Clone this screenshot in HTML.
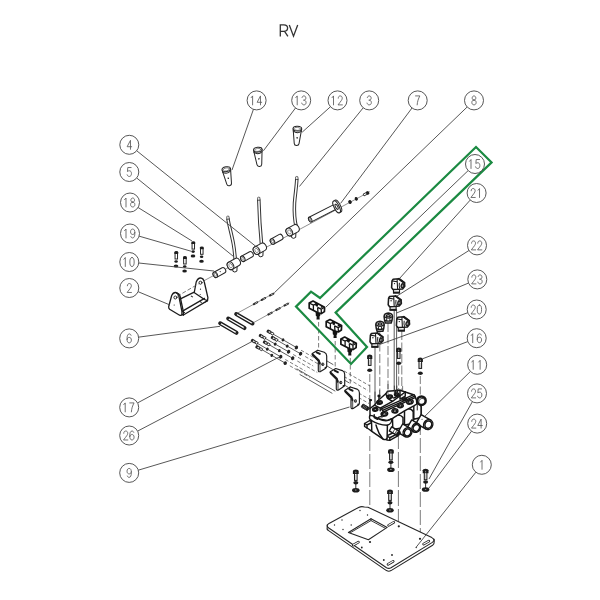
<!DOCTYPE html>
<html><head><meta charset="utf-8"><title>RV</title>
<style>
html,body{margin:0;padding:0;background:#fff;}
body{width:600px;height:600px;overflow:hidden;font-family:"Liberation Sans",sans-serif;}
svg{display:block}
.ld{stroke:#444;stroke-width:.9;fill:none}
.co{stroke:#444;stroke-width:.9;fill:#fff}
.dg{stroke:#5a5a5a;stroke-width:.78;fill:none;stroke-linecap:round;stroke-linejoin:round}
.p{stroke:#262626;stroke-width:1;fill:#fff;stroke-linejoin:round;stroke-linecap:round}
.pn{stroke:#262626;stroke-width:1;fill:none;stroke-linejoin:round;stroke-linecap:round}
.t{stroke:#444;stroke-width:.6;fill:none;stroke-linecap:round}
.k{fill:#222;stroke:none}
.da{stroke:#444;stroke-width:.7;fill:none;stroke-dasharray:5 2.5}
.ns *{vector-effect:non-scaling-stroke}
.g{stroke:#1b8a42;stroke-width:2.2;fill:none;stroke-linejoin:miter}
.ti{stroke:#333;stroke-width:1.3;fill:none;stroke-linecap:butt;stroke-linejoin:miter}
</style></head><body>
<svg width="600" height="600" viewBox="0 0 600 600">
<rect width="600" height="600" fill="#fff"/>
<!-- title RV -->
<path class="ti" d="M280.3,36.4 V24.9 H283.9 C286.3,24.9 287.6,26 287.6,28.1 C287.6,30.2 286.3,31.3 283.9,31.3 H280.3 M284.6,31.3 L287.9,36.4"/>
<path class="ti" d="M289.3,24.9 L293.5,36.2 L297.7,24.9"/>
<path class="t" d="M200.5,282.6 L369.5,191.8"/>
<g transform="translate(226.3,169.2) rotate(-11)"><path class="p" d="M-4.3,0 L-2.4,14.8 Q-2.2,16.8 0,16.8 Q2.2,16.8 2.4,14.8 L4.3,0Z"/><path class="pn" d="M-4.1,2.4 Q0,5.6 4.1,2.4"/><ellipse class="p" cx="0" cy="0" rx="4.3" ry="2.4"/><ellipse class="pn" cx="0" cy="0.2" rx="3.2" ry="1.5" style="stroke-width:.5"/><circle class="k" cx="0.2" cy="9.2" r=".8"/></g>
<g transform="translate(257.8,149.7) rotate(-6)"><path class="p" d="M-4.3,0 L-2.4,14.8 Q-2.2,16.8 0,16.8 Q2.2,16.8 2.4,14.8 L4.3,0Z"/><path class="pn" d="M-4.1,2.4 Q0,5.6 4.1,2.4"/><ellipse class="p" cx="0" cy="0" rx="4.3" ry="2.4"/><ellipse class="pn" cx="0" cy="0.2" rx="3.2" ry="1.5" style="stroke-width:.5"/><circle class="k" cx="0.2" cy="9.2" r=".8"/></g>
<g transform="translate(297.4,128.7) rotate(3)"><path class="p" d="M-4.3,0 L-2.4,14.8 Q-2.2,16.8 0,16.8 Q2.2,16.8 2.4,14.8 L4.3,0Z"/><path class="pn" d="M-4.1,2.4 Q0,5.6 4.1,2.4"/><ellipse class="p" cx="0" cy="0" rx="4.3" ry="2.4"/><ellipse class="pn" cx="0" cy="0.2" rx="3.2" ry="1.5" style="stroke-width:.5"/><circle class="k" cx="0.2" cy="9.2" r=".8"/></g>
<g transform="translate(310.20,219.60) rotate(-27)"><path class="p" d="M0,-2.6 L30,-2.6 A1.43,2.6 0 0 1 30,2.6 L0,2.6 A1.43,2.6 0 0 1 0,-2.6Z"/><ellipse class="p" cx="0" cy="0" rx="1.43" ry="2.6"/><ellipse class="p" cx="0.2" cy="0" rx="0.72" ry="1.3" style="stroke-width:.6;stroke:#555"/></g>
<g transform="translate(336.6,206.8) rotate(-27)"><ellipse class="p" cx="1.5" cy="0" rx="2.5" ry="6.6"/><ellipse class="p" cx="0" cy="0" rx="2.5" ry="6.6" style="stroke-width:1.1"/><ellipse class="pn" cx="0" cy="0" rx="1.1" ry="2.8" /></g>
<ellipse fill="#1c1c1c" cx="350" cy="202" rx="1.7" ry="2.1" transform="rotate(-27 350 202)"/>
<ellipse fill="#1c1c1c" cx="356.3" cy="198.8" rx="1.5" ry="1.9" transform="rotate(-27 356.3 198.8)"/>
<g transform="translate(363.6,195) rotate(-27)"><rect x="0" y="-1" width="3.6" height="2" fill="#fff" stroke="#1c1c1c" stroke-width=".8"/><rect fill="#1c1c1c" x="3.2" y="-1.7" width="2.8" height="3.4" rx=".9"/></g>
<g transform="translate(215.30,274.80) rotate(-29)"><path class="p" d="M0,-2.9 L9.4,-2.9 A2.03,2.9 0 0 1 9.4,2.9 L0,2.9 A2.03,2.9 0 0 1 0,-2.9Z"/><ellipse class="p" cx="0" cy="0" rx="2.03" ry="2.9"/><ellipse class="p" cx="0.2" cy="0" rx="1.12" ry="1.6" style="stroke-width:.6;stroke:#555"/></g>
<g transform="translate(242.80,258.80) rotate(-29)"><path class="p" d="M0,-2.9 L9.4,-2.9 A2.03,2.9 0 0 1 9.4,2.9 L0,2.9 A2.03,2.9 0 0 1 0,-2.9Z"/><ellipse class="p" cx="0" cy="0" rx="2.03" ry="2.9"/><ellipse class="p" cx="0.2" cy="0" rx="1.12" ry="1.6" style="stroke-width:.6;stroke:#555"/></g>
<g transform="translate(272.50,241.50) rotate(-29)"><path class="p" d="M0,-2.9 L9.4,-2.9 A2.03,2.9 0 0 1 9.4,2.9 L0,2.9 A2.03,2.9 0 0 1 0,-2.9Z"/><ellipse class="p" cx="0" cy="0" rx="2.03" ry="2.9"/><ellipse class="p" cx="0.2" cy="0" rx="1.12" ry="1.6" style="stroke-width:.6;stroke:#555"/></g>
<circle class="k" cx="220.2" cy="271.6" r=".55"/>
<path d="M227.9,218.5 C229,226 231.6,234 233.4,244 C234.3,249 234.8,254 235.2,259.5" fill="none" stroke="#333" stroke-width="3.5" stroke-linecap="butt" stroke-linejoin="round"/>
<path d="M227.9,218.5 C229,226 231.6,234 233.4,244 C234.3,249 234.8,254 235.2,259.5" fill="none" stroke="#fff" stroke-width="1.5" stroke-linecap="butt" stroke-linejoin="round"/>
<path class="p" d="M226.9,218.9 L226.7,216.6 Q227.8,215.6 229,216.4 L229.2,218.7Z" style="stroke-width:.7"/>
<path class="p" d="M232.5,267.9 L232.9,271.3 Q234.7,272.9 236.9,271.1 L237.1,266.7Z"/>
<g transform="translate(230.50,265.70) rotate(-29)"><path class="p" d="M0,-4.0 L7.6,-4.0 A3.00,4.0 0 0 1 7.6,4.0 L0,4.0 A3.00,4.0 0 0 1 0,-4.0Z"/><ellipse class="p" cx="0" cy="0" rx="3.00" ry="4.0"/><ellipse class="p" cx="0.2" cy="0" rx="1.65" ry="2.2" style="stroke-width:.6;stroke:#555"/></g>
<path d="M258.8,199.5 C259.2,215 260.3,232 261.6,245.5" fill="none" stroke="#333" stroke-width="3.5" stroke-linecap="butt" stroke-linejoin="round"/>
<path d="M258.8,199.5 C259.2,215 260.3,232 261.6,245.5" fill="none" stroke="#fff" stroke-width="1.5" stroke-linecap="butt" stroke-linejoin="round"/>
<path class="p" d="M257.7,199.9 L257.6,197.6 Q258.7,196.7 259.9,197.5 L260,199.8Z" style="stroke-width:.7"/>
<path class="p" d="M258.5,252.7 L258.9,256.1 Q260.7,257.7 262.9,255.9 L263.1,251.5Z"/>
<g transform="translate(256.50,250.50) rotate(-29)"><path class="p" d="M0,-4.0 L7.6,-4.0 A3.00,4.0 0 0 1 7.6,4.0 L0,4.0 A3.00,4.0 0 0 1 0,-4.0Z"/><ellipse class="p" cx="0" cy="0" rx="3.00" ry="4.0"/><ellipse class="p" cx="0.2" cy="0" rx="1.65" ry="2.2" style="stroke-width:.6;stroke:#555"/></g>
<path d="M296.8,178.8 C296.6,186 295.2,194 294.5,203 C294,212 294.6,220 296.3,227.5" fill="none" stroke="#333" stroke-width="3.5" stroke-linecap="butt" stroke-linejoin="round"/>
<path d="M296.8,178.8 C296.6,186 295.2,194 294.5,203 C294,212 294.6,220 296.3,227.5" fill="none" stroke="#fff" stroke-width="1.5" stroke-linecap="butt" stroke-linejoin="round"/>
<path class="p" d="M295.7,179.2 L295.6,176.9 Q296.8,176 297.9,176.8 L298,179.1Z" style="stroke-width:.7"/>
<path class="p" d="M291.3,234.2 L291.7,237.6 Q293.5,239.2 295.7,237.4 L295.9,233.0Z"/>
<g transform="translate(289.30,232.00) rotate(-29)"><path class="p" d="M0,-4.0 L7.6,-4.0 A3.00,4.0 0 0 1 7.6,4.0 L0,4.0 A3.00,4.0 0 0 1 0,-4.0Z"/><ellipse class="p" cx="0" cy="0" rx="3.00" ry="4.0"/><ellipse class="p" cx="0.2" cy="0" rx="1.65" ry="2.2" style="stroke-width:.6;stroke:#555"/></g>
<g transform="translate(193.3,241.7)"><rect x="-1.25" y="1.6" width="2.5" height="5.8" fill="#fff" stroke="#1c1c1c" stroke-width=".95"/><path fill="#1c1c1c" d="M-1.9,2.3 L-1.9,0.7 Q-1.9,-0.5 0,-0.5 Q1.9,-0.5 1.9,0.7 L1.9,2.3Z"/><ellipse fill="#1c1c1c" cx="-0.2" cy="9.9" rx="1.75" ry="1.3"/><ellipse fill="#1c1c1c" cx="-0.3" cy="14.4" rx="2.3" ry="1.5"/></g>
<g transform="translate(201.8,246.9)"><rect x="-1.25" y="1.6" width="2.5" height="5.8" fill="#fff" stroke="#1c1c1c" stroke-width=".95"/><path fill="#1c1c1c" d="M-1.9,2.3 L-1.9,0.7 Q-1.9,-0.5 0,-0.5 Q1.9,-0.5 1.9,0.7 L1.9,2.3Z"/><ellipse fill="#1c1c1c" cx="-0.2" cy="9.9" rx="1.75" ry="1.3"/><ellipse fill="#1c1c1c" cx="-0.3" cy="14.4" rx="2.3" ry="1.5"/></g>
<g transform="translate(176.3,251.6)"><rect x="-1.25" y="1.6" width="2.5" height="5.8" fill="#fff" stroke="#1c1c1c" stroke-width=".95"/><path fill="#1c1c1c" d="M-1.9,2.3 L-1.9,0.7 Q-1.9,-0.5 0,-0.5 Q1.9,-0.5 1.9,0.7 L1.9,2.3Z"/><ellipse fill="#1c1c1c" cx="-0.2" cy="9.9" rx="1.75" ry="1.3"/><ellipse fill="#1c1c1c" cx="-0.3" cy="14.4" rx="2.3" ry="1.5"/></g>
<g transform="translate(184.9,256.6)"><rect x="-1.25" y="1.6" width="2.5" height="5.8" fill="#fff" stroke="#1c1c1c" stroke-width=".95"/><path fill="#1c1c1c" d="M-1.9,2.3 L-1.9,0.7 Q-1.9,-0.5 0,-0.5 Q1.9,-0.5 1.9,0.7 L1.9,2.3Z"/><ellipse fill="#1c1c1c" cx="-0.2" cy="9.9" rx="1.75" ry="1.3"/><ellipse fill="#1c1c1c" cx="-0.3" cy="14.4" rx="2.3" ry="1.5"/></g>
<path class="p" style="stroke-width:1.3;stroke:#1c1c1c" d="M193.7,295.5 L196.2,282 Q198,277.8 200.6,278 Q203.6,278.2 204.4,282.5 L207.9,297.6 L207.5,300.6 L204.5,302.2 Z"/>
<path class="p" style="stroke-width:1.3;stroke:#1c1c1c" d="M179.4,299.4 L193.7,292.3 L204.5,299.5 L207.5,300.6 L183.4,315 L180.5,314.2 Z"/>
<path class="pn" style="stroke-width:1.3;stroke:#1c1c1c" d="M181.7,311.6 L204.5,298.4"/>
<path class="p" style="stroke-width:1.3;stroke:#1c1c1c" d="M168.7,306.5 L171.7,295.5 Q173.2,292.3 175.6,292.5 Q178,292.8 178.9,296.4 L181.9,311.4 L181.9,314.4 Q181.5,315.8 179.6,315.2 L169.6,309.3 Q168.4,308.2 168.7,306.5Z"/>
<path class="pn" style="stroke-width:1.3;stroke:#1c1c1c" d="M176.6,292.8 Q179.4,293.4 180,296 L183.3,311.5 L183.4,315"/>
<circle class="p" cx="175.4" cy="297.5" r="1.5" style="stroke-width:1"/>
<circle class="p" cx="200.5" cy="282.7" r="1.5" style="stroke-width:1"/>
<circle class="k" cx="174.2" cy="305" r=".6"/><circle class="k" cx="200.5" cy="289.2" r=".6"/><circle class="k" cx="200.2" cy="294.6" r=".5"/>
<path class="k" d="M191.2,295.6 l2,1.2 l-.6,.7 l-2,-1.2z M199.6,300.8 l2.4,1.4 l-.6,.8 l-2.4,-1.4z M183.4,311.4 l1.8,.9 l-.5,.9 l-1.8,-.9z"/>
<path class="da" style="stroke-dasharray:4 2" d="M177.2,296.3 L198.6,283.8"/>
<path d="M236.2,314 L252.5,323.5" stroke="#1c1c1c" stroke-width="4" stroke-linecap="round" fill="none"/>
<path d="M236.5,314.2 L252.2,323.3" stroke="#fff" stroke-width="1.3" stroke-linecap="round" fill="none"/>
<circle class="k" cx="236.2" cy="314" r="1"/><circle class="k" cx="252.5" cy="323.5" r="1"/>
<path d="M228.2,318.6 L244.5,328.1" stroke="#1c1c1c" stroke-width="4" stroke-linecap="round" fill="none"/>
<path d="M228.5,318.8 L244.2,327.90000000000003" stroke="#fff" stroke-width="1.3" stroke-linecap="round" fill="none"/>
<circle class="k" cx="228.2" cy="318.6" r="1"/><circle class="k" cx="244.5" cy="328.1" r="1"/>
<path d="M220.2,323.3 L236.5,332.8" stroke="#1c1c1c" stroke-width="4" stroke-linecap="round" fill="none"/>
<path d="M220.5,323.5 L236.2,332.6" stroke="#fff" stroke-width="1.3" stroke-linecap="round" fill="none"/>
<circle class="k" cx="220.2" cy="323.3" r="1"/><circle class="k" cx="236.5" cy="332.8" r="1"/>
<path class="t" d="M236.6,313.6 L274.5,292.9 M252.9,323 L289,303"/>
<g transform="translate(255.5,303.2) rotate(-29)"><rect x="-2.8" y="-1" width="5.6" height="2" rx=".6" fill="#2a2a2a"/><rect x="-0.6" y="-.35" width="2.4" height=".7" fill="#bbb"/></g>
<g transform="translate(263.4,299) rotate(-29)"><rect x="-2.8" y="-1" width="5.6" height="2" rx=".6" fill="#2a2a2a"/><rect x="-0.6" y="-.35" width="2.4" height=".7" fill="#bbb"/></g>
<g transform="translate(271.6,294.6) rotate(-29)"><rect x="-2.8" y="-1" width="5.6" height="2" rx=".6" fill="#2a2a2a"/><rect x="-0.6" y="-.35" width="2.4" height=".7" fill="#bbb"/></g>
<g transform="translate(270,313.6) rotate(-29)"><rect x="-2.8" y="-1" width="5.6" height="2" rx=".6" fill="#2a2a2a"/><rect x="-0.6" y="-.35" width="2.4" height=".7" fill="#bbb"/></g>
<g transform="translate(278,309.1) rotate(-29)"><rect x="-2.8" y="-1" width="5.6" height="2" rx=".6" fill="#2a2a2a"/><rect x="-0.6" y="-.35" width="2.4" height=".7" fill="#bbb"/></g>
<g transform="translate(286.2,304.6) rotate(-29)"><rect x="-2.8" y="-1" width="5.6" height="2" rx=".6" fill="#2a2a2a"/><rect x="-0.6" y="-.35" width="2.4" height=".7" fill="#bbb"/></g>
<path class="t" style="stroke-width:.8;stroke:#333" d="M269,331.7 L297.6,348.2"/>
<path class="da" style="stroke-dasharray:3.5 2" d="M301.0,350.2 L321.0,361.7"/>
<g transform="translate(269,331.7) rotate(30)"><rect x="-2.4" y="-1.7" width="4.8" height="3.4" rx="1.2" fill="#222"/><rect x="-0.4" y="-.7" width="2" height="1.4" rx=".5" fill="#ddd"/><rect x="2.4" y="-1.1" width="2.6" height="2.2" fill="#fff" stroke="#222" stroke-width=".8"/></g>
<ellipse class="k" cx="283.0" cy="339.8" rx="1.3" ry="1.6" transform="rotate(30 283.0 339.8)"/>
<ellipse class="k" cx="296.4" cy="347.5" rx="1.6" ry="1.95" transform="rotate(30 296.4 347.5)"/>
<path class="t" style="stroke-width:.8;stroke:#333" d="M261.2,336 L289.8,352.5"/>
<path class="da" style="stroke-dasharray:3.5 2" d="M293.2,354.5 L313.2,366.0"/>
<g transform="translate(261.2,336) rotate(30)"><rect x="-2.4" y="-1.7" width="4.8" height="3.4" rx="1.2" fill="#222"/><rect x="-0.4" y="-.7" width="2" height="1.4" rx=".5" fill="#ddd"/><rect x="2.4" y="-1.1" width="2.6" height="2.2" fill="#fff" stroke="#222" stroke-width=".8"/></g>
<ellipse class="k" cx="275.2" cy="344.1" rx="1.3" ry="1.6" transform="rotate(30 275.2 344.1)"/>
<ellipse class="k" cx="288.6" cy="351.8" rx="1.6" ry="1.95" transform="rotate(30 288.6 351.8)"/>
<path class="t" style="stroke-width:.8;stroke:#333" d="M253.3,341 L281.9,357.5"/>
<path class="da" style="stroke-dasharray:3.5 2" d="M285.3,359.5 L305.3,371.0"/>
<g transform="translate(253.3,341) rotate(30)"><rect x="-2.4" y="-1.7" width="4.8" height="3.4" rx="1.2" fill="#222"/><rect x="-0.4" y="-.7" width="2" height="1.4" rx=".5" fill="#ddd"/><rect x="2.4" y="-1.1" width="2.6" height="2.2" fill="#fff" stroke="#222" stroke-width=".8"/></g>
<ellipse class="k" cx="267.3" cy="349.1" rx="1.3" ry="1.6" transform="rotate(30 267.3 349.1)"/>
<ellipse class="k" cx="280.7" cy="356.8" rx="1.6" ry="1.95" transform="rotate(30 280.7 356.8)"/>
<path class="t" style="stroke-width:.8;stroke:#333" d="M273.2,338 L301.8,354.5"/>
<path class="da" style="stroke-dasharray:3.5 2" d="M305.2,356.5 L325.2,368.0"/>
<g transform="translate(273.2,338) rotate(30)"><rect x="-2.4" y="-1.7" width="4.8" height="3.4" rx="1.2" fill="#222"/><rect x="-0.4" y="-.7" width="2" height="1.4" rx=".5" fill="#ddd"/><rect x="2.4" y="-1.1" width="2.6" height="2.2" fill="#fff" stroke="#222" stroke-width=".8"/></g>
<ellipse class="k" cx="287.2" cy="346.1" rx="1.3" ry="1.6" transform="rotate(30 287.2 346.1)"/>
<ellipse class="k" cx="300.6" cy="353.8" rx="1.6" ry="1.95" transform="rotate(30 300.6 353.8)"/>
<path class="t" style="stroke-width:.8;stroke:#333" d="M265.3,342.5 L293.9,359.0"/>
<path class="da" style="stroke-dasharray:3.5 2" d="M297.3,361.0 L317.3,372.5"/>
<g transform="translate(265.3,342.5) rotate(30)"><rect x="-2.4" y="-1.7" width="4.8" height="3.4" rx="1.2" fill="#222"/><rect x="-0.4" y="-.7" width="2" height="1.4" rx=".5" fill="#ddd"/><rect x="2.4" y="-1.1" width="2.6" height="2.2" fill="#fff" stroke="#222" stroke-width=".8"/></g>
<ellipse class="k" cx="279.3" cy="350.6" rx="1.3" ry="1.6" transform="rotate(30 279.3 350.6)"/>
<ellipse class="k" cx="292.7" cy="358.3" rx="1.6" ry="1.95" transform="rotate(30 292.7 358.3)"/>
<path class="t" style="stroke-width:.8;stroke:#333" d="M257.8,347.3 L286.4,363.8"/>
<path class="da" style="stroke-dasharray:3.5 2" d="M289.8,365.8 L309.8,377.3"/>
<g transform="translate(257.8,347.3) rotate(30)"><rect x="-2.4" y="-1.7" width="4.8" height="3.4" rx="1.2" fill="#222"/><rect x="-0.4" y="-.7" width="2" height="1.4" rx=".5" fill="#ddd"/><rect x="2.4" y="-1.1" width="2.6" height="2.2" fill="#fff" stroke="#222" stroke-width=".8"/></g>
<ellipse class="k" cx="271.8" cy="355.4" rx="1.3" ry="1.6" transform="rotate(30 271.8 355.4)"/>
<ellipse class="k" cx="285.2" cy="363.1" rx="1.6" ry="1.95" transform="rotate(30 285.2 363.1)"/>
<path class="t" style="stroke:#333;stroke-width:.8" d="M297,369 L335,391 M300,374.6 L332,393.2"/>
<path class="t" style="stroke:#333;stroke-width:.8" d="M327,361 L333,364.5 M327,366 L332.5,369.3 M343.5,379.5 L349,382.8 M343.5,384.5 L348,387.2"/>
<path class="da" style="stroke-dasharray:3.5 2" d="M344,371 L370,386 M344,376.5 L368,390.5 M358.5,393 L370,399.5 M358.5,397.5 L369,403.5"/>
<path class="da" style="stroke-dasharray:4.5 2.5" d="M318.6,322 V351 M335.2,341 V370 M350.3,358 V388"/>
<g transform="translate(318.3,361)"><path d="M-6,-7.5 L-0.6,-10.8 L6,-8.7 Q8.4,-7.5 8.4,-5 L8.4,5.3 Q8.2,7 6.7,7.8 L2.2,10.6 Q0,11.3 0,9.5 L0,0 L-5.8,-5.8Z" fill="#fff" stroke="#1c1c1c" stroke-width="1.15" stroke-linejoin="round"/><path d="M-5.8,-6.8 L0.6,-0.6 L1.4,2.5" fill="none" stroke="#1c1c1c" stroke-width="1.9" stroke-linecap="round" stroke-linejoin="round"/><path d="M1.7,1 L1.7,10.4" fill="none" stroke="#1c1c1c" stroke-width=".8"/><path d="M-1.6,-8.7 L1.5,-7.1" stroke="#1c1c1c" stroke-width="2" stroke-linecap="round"/><ellipse cx="4.5" cy="3.2" rx="1.5" ry="1.8" fill="#1c1c1c"/><ellipse cx="4.8" cy="3.1" rx=".6" ry=".8" fill="#aaa"/><circle cx="7.2" cy="6.6" r=".9" fill="#1c1c1c"/></g>
<g transform="translate(336.3,379.3)"><path d="M-6,-7.5 L-0.6,-10.8 L6,-8.7 Q8.4,-7.5 8.4,-5 L8.4,5.3 Q8.2,7 6.7,7.8 L2.2,10.6 Q0,11.3 0,9.5 L0,0 L-5.8,-5.8Z" fill="#fff" stroke="#1c1c1c" stroke-width="1.15" stroke-linejoin="round"/><path d="M-5.8,-6.8 L0.6,-0.6 L1.4,2.5" fill="none" stroke="#1c1c1c" stroke-width="1.9" stroke-linecap="round" stroke-linejoin="round"/><path d="M1.7,1 L1.7,10.4" fill="none" stroke="#1c1c1c" stroke-width=".8"/><path d="M-1.6,-8.7 L1.5,-7.1" stroke="#1c1c1c" stroke-width="2" stroke-linecap="round"/><ellipse cx="4.5" cy="3.2" rx="1.5" ry="1.8" fill="#1c1c1c"/><ellipse cx="4.8" cy="3.1" rx=".6" ry=".8" fill="#aaa"/><circle cx="7.2" cy="6.6" r=".9" fill="#1c1c1c"/></g>
<g transform="translate(351,397.8)"><path d="M-6,-7.5 L-0.6,-10.8 L6,-8.7 Q8.4,-7.5 8.4,-5 L8.4,5.3 Q8.2,7 6.7,7.8 L2.2,10.6 Q0,11.3 0,9.5 L0,0 L-5.8,-5.8Z" fill="#fff" stroke="#1c1c1c" stroke-width="1.15" stroke-linejoin="round"/><path d="M-5.8,-6.8 L0.6,-0.6 L1.4,2.5" fill="none" stroke="#1c1c1c" stroke-width="1.9" stroke-linecap="round" stroke-linejoin="round"/><path d="M1.7,1 L1.7,10.4" fill="none" stroke="#1c1c1c" stroke-width=".8"/><path d="M-1.6,-8.7 L1.5,-7.1" stroke="#1c1c1c" stroke-width="2" stroke-linecap="round"/><ellipse cx="4.5" cy="3.2" rx="1.5" ry="1.8" fill="#1c1c1c"/><ellipse cx="4.8" cy="3.1" rx=".6" ry=".8" fill="#aaa"/><circle cx="7.2" cy="6.6" r=".9" fill="#1c1c1c"/></g>
<g transform="translate(317,308)"><path fill="#141414" d="M-1.4,3.2 L3.4,4.8 L3.2,7.8 L2.5,8.6 L2.7,11.6 L-0.5,11.6 L-0.3,8.6 L-1.2,7.8Z"/><path d="M-7.8,-5 L-4,-6.9 L7.6,-0.8 L7.4,3.6 L4.4,5.6 L1,4.8 L-7.8,0.3Z" fill="#fff" stroke="#141414" stroke-width="1.7" stroke-linejoin="round"/><path d="M-7.8,-5 L-3.6,-2.8 L0.2,-4.7 M-3.6,-2.8 L-3.6,2.3 M0.6,-0.6 L4.2,1.2 L7.6,-0.8 M4.2,1.2 L4.4,5.6 M0.6,-0.6 L1,4.8" fill="none" stroke="#141414" stroke-width="1.3" stroke-linejoin="round"/><path fill="#141414" d="M-1.8,-5.6 L1.6,-3.8 L0.4,-1 L-1.6,-2.2Z M4.6,-2.2 L6.6,-1.2 L5,0 L3.4,-0.8Z"/></g>
<g transform="translate(334,326.4)"><path fill="#141414" d="M-1.4,3.2 L3.4,4.8 L3.2,7.8 L2.5,8.6 L2.7,11.6 L-0.5,11.6 L-0.3,8.6 L-1.2,7.8Z"/><path d="M-7.8,-5 L-4,-6.9 L7.6,-0.8 L7.4,3.6 L4.4,5.6 L1,4.8 L-7.8,0.3Z" fill="#fff" stroke="#141414" stroke-width="1.7" stroke-linejoin="round"/><path d="M-7.8,-5 L-3.6,-2.8 L0.2,-4.7 M-3.6,-2.8 L-3.6,2.3 M0.6,-0.6 L4.2,1.2 L7.6,-0.8 M4.2,1.2 L4.4,5.6 M0.6,-0.6 L1,4.8" fill="none" stroke="#141414" stroke-width="1.3" stroke-linejoin="round"/><path fill="#141414" d="M-1.8,-5.6 L1.6,-3.8 L0.4,-1 L-1.6,-2.2Z M4.6,-2.2 L6.6,-1.2 L5,0 L3.4,-0.8Z"/></g>
<g transform="translate(348.7,344)"><path fill="#141414" d="M-1.4,3.2 L3.4,4.8 L3.2,7.8 L2.5,8.6 L2.7,11.6 L-0.5,11.6 L-0.3,8.6 L-1.2,7.8Z"/><path d="M-7.8,-5 L-4,-6.9 L7.6,-0.8 L7.4,3.6 L4.4,5.6 L1,4.8 L-7.8,0.3Z" fill="#fff" stroke="#141414" stroke-width="1.7" stroke-linejoin="round"/><path d="M-7.8,-5 L-3.6,-2.8 L0.2,-4.7 M-3.6,-2.8 L-3.6,2.3 M0.6,-0.6 L4.2,1.2 L7.6,-0.8 M4.2,1.2 L4.4,5.6 M0.6,-0.6 L1,4.8" fill="none" stroke="#141414" stroke-width="1.3" stroke-linejoin="round"/><path fill="#141414" d="M-1.8,-5.6 L1.6,-3.8 L0.4,-1 L-1.6,-2.2Z M4.6,-2.2 L6.6,-1.2 L5,0 L3.4,-0.8Z"/></g>
<path class="da" style="stroke-dasharray:8 2.5" d="M369.8,374 V400 M420.3,376 V402"/>
<path class="da" style="stroke-dasharray:15 3" d="M369.8,436 V541 M420.3,420 V538"/>
<path class="da" style="stroke-dasharray:16 3;stroke-dashoffset:3" d="M398.4,436 V526"/>
<path class="da" style="stroke-dasharray:9 2.5" d="M398.7,365 V393 M379.8,331 V402 M388,323 V393 M401.8,331 V396"/>
<path class="t" style="stroke:#333;stroke-width:.8" d="M375,348 V402 M394.2,310 V393 M396.6,310 V393"/>
<path class="p" style="stroke-width:1.1" d="M327.2,527.6 Q326.6,529.6 328.6,530.6 L386.5,570.6 Q388.8,571.8 391,570.6 L432.6,545.2 Q434.4,544 434.2,541.6 L434.2,539.2 L327.2,524.8Z"/>
<path class="p" style="stroke-width:1.1" d="M329,523.4 L358.6,507.4 Q361.4,506 364.4,507 L368,507.2 L431.8,537.6 Q435.6,540 432.4,542.4 L391,567.8 Q388.8,569 386.5,567.8 L328.8,528 Q325.6,525.6 329,523.4Z"/>
<path class="p" style="stroke-width:1.1" d="M348.4,532.5 L371,518.7 L387.2,527.4 L368.4,539.8Z"/>
<path class="pn" style="stroke-width:.9" d="M350.4,532.7 L371,520.6 L385.2,528.2 M371,518.7 V520.6"/>
<path d="M388.59999999999997,525.3 L393.8,522.3" stroke="#1c1c1c" stroke-width="2.6" stroke-linecap="round"/>
<path d="M388.7,525.25 L393.7,522.3499999999999" stroke="#fff" stroke-width="1.1" stroke-linecap="round"/>
<path d="M353.2,545.1 L358.40000000000003,542.1" stroke="#1c1c1c" stroke-width="2.6" stroke-linecap="round"/>
<path d="M353.3,545.0500000000001 L358.3,542.15" stroke="#fff" stroke-width="1.1" stroke-linecap="round"/>
<path d="M423.59999999999997,544.1 L428.8,541.1" stroke="#1c1c1c" stroke-width="2.6" stroke-linecap="round"/>
<path d="M423.7,544.0500000000001 L428.7,541.15" stroke="#fff" stroke-width="1.1" stroke-linecap="round"/>
<path d="M388.0,564.3 L393.20000000000005,561.3" stroke="#1c1c1c" stroke-width="2.6" stroke-linecap="round"/>
<path d="M388.1,564.25 L393.1,561.3499999999999" stroke="#fff" stroke-width="1.1" stroke-linecap="round"/>
<circle class="k" cx="370" cy="542" r="1.1"/>
<circle class="k" cx="398.8" cy="526.3" r="1.1"/>
<circle class="k" cx="420" cy="538.8" r="1.1"/>
<circle class="k" cx="416.2" cy="547.5" r="0.7"/>
<circle class="k" cx="334.5" cy="525" r="0.7"/>
<circle class="k" cx="342" cy="520" r="0.7"/>
<circle class="k" cx="360" cy="510.5" r="0.7"/>
<circle class="k" cx="367.5" cy="515" r="0.7"/>
<circle class="k" cx="343" cy="529.5" r="0.7"/>
<circle class="k" cx="351.2" cy="525" r="0.7"/>
<circle class="k" cx="361.8" cy="547.5" r="0.9"/>
<circle class="k" cx="383.8" cy="560" r="0.9"/>
<circle class="k" cx="392" cy="555" r="0.9"/>
<g transform="translate(390.9,449.5)"><path d="M0,12.8 V20" stroke="#1c1c1c" stroke-width=".9"/><rect x="-1.3" y="3" width="2.6" height="7.4" fill="#fff" stroke="#1c1c1c" stroke-width="1.05"/><path d="M0,5 V10" stroke="#888" stroke-width=".5"/><path d="M-2.9,3.9 L-2.9,1 Q-2.9,-0.5 0,-0.5 Q2.9,-0.5 2.9,1 L2.9,3.9Z" fill="#1c1c1c"/><rect x="-0.5" y="1.6" width="1" height="1.6" fill="#8a8a8a"/><ellipse cx="0" cy="12.8" rx="2.5" ry="1.75" fill="#1c1c1c"/><ellipse cx="0" cy="20.2" rx="3.75" ry="2.3" fill="#1c1c1c"/><ellipse cx="0" cy="20" rx=".9" ry=".4" fill="#ccc"/></g>
<g transform="translate(355.8,470)"><path d="M0,12.8 V20" stroke="#1c1c1c" stroke-width=".9"/><rect x="-1.3" y="3" width="2.6" height="7.4" fill="#fff" stroke="#1c1c1c" stroke-width="1.05"/><path d="M0,5 V10" stroke="#888" stroke-width=".5"/><path d="M-2.9,3.9 L-2.9,1 Q-2.9,-0.5 0,-0.5 Q2.9,-0.5 2.9,1 L2.9,3.9Z" fill="#1c1c1c"/><rect x="-0.5" y="1.6" width="1" height="1.6" fill="#8a8a8a"/><ellipse cx="0" cy="12.8" rx="2.5" ry="1.75" fill="#1c1c1c"/><ellipse cx="0" cy="20.2" rx="3.75" ry="2.3" fill="#1c1c1c"/><ellipse cx="0" cy="20" rx=".9" ry=".4" fill="#ccc"/></g>
<g transform="translate(390,490)"><path d="M0,12.8 V20" stroke="#1c1c1c" stroke-width=".9"/><rect x="-1.3" y="3" width="2.6" height="7.4" fill="#fff" stroke="#1c1c1c" stroke-width="1.05"/><path d="M0,5 V10" stroke="#888" stroke-width=".5"/><path d="M-2.9,3.9 L-2.9,1 Q-2.9,-0.5 0,-0.5 Q2.9,-0.5 2.9,1 L2.9,3.9Z" fill="#1c1c1c"/><rect x="-0.5" y="1.6" width="1" height="1.6" fill="#8a8a8a"/><ellipse cx="0" cy="12.8" rx="2.5" ry="1.75" fill="#1c1c1c"/><ellipse cx="0" cy="20.2" rx="3.75" ry="2.3" fill="#1c1c1c"/><ellipse cx="0" cy="20" rx=".9" ry=".4" fill="#ccc"/></g>
<g transform="translate(425.6,469.3)"><path d="M0,12.8 V20" stroke="#1c1c1c" stroke-width=".9"/><rect x="-1.3" y="3" width="2.6" height="7.4" fill="#fff" stroke="#1c1c1c" stroke-width="1.05"/><path d="M0,5 V10" stroke="#888" stroke-width=".5"/><path d="M-2.9,3.9 L-2.9,1 Q-2.9,-0.5 0,-0.5 Q2.9,-0.5 2.9,1 L2.9,3.9Z" fill="#1c1c1c"/><rect x="-0.5" y="1.6" width="1" height="1.6" fill="#8a8a8a"/><ellipse cx="0" cy="12.8" rx="2.5" ry="1.75" fill="#1c1c1c"/><ellipse cx="0" cy="20.2" rx="3.75" ry="2.3" fill="#1c1c1c"/><ellipse cx="0" cy="20" rx=".9" ry=".4" fill="#ccc"/></g>
<g transform="translate(369.7,355)"><rect x="-1.3" y="3" width="2.6" height="7.4" fill="#fff" stroke="#1c1c1c" stroke-width="1.05"/><path d="M0,5 V10" stroke="#888" stroke-width=".5"/><path d="M-2.6,3.9 L-2.6,1 Q-2.6,-0.5 0,-0.5 Q2.6,-0.5 2.6,1 L2.6,3.9Z" fill="#1c1c1c"/><rect x="-0.5" y="1.6" width="1" height="1.6" fill="#8a8a8a"/><ellipse cx="0" cy="15.3" rx="2.5" ry="1.75" fill="#1c1c1c"/></g>
<g transform="translate(398.7,348)"><rect x="-1.3" y="3" width="2.6" height="7.4" fill="#fff" stroke="#1c1c1c" stroke-width="1.05"/><path d="M0,5 V10" stroke="#888" stroke-width=".5"/><path d="M-2.6,3.9 L-2.6,1 Q-2.6,-0.5 0,-0.5 Q2.6,-0.5 2.6,1 L2.6,3.9Z" fill="#1c1c1c"/><rect x="-0.5" y="1.6" width="1" height="1.6" fill="#8a8a8a"/><ellipse cx="0" cy="15.3" rx="2.5" ry="1.75" fill="#1c1c1c"/></g>
<g transform="translate(420.3,358)"><rect x="-1.3" y="3" width="2.6" height="7.4" fill="#fff" stroke="#1c1c1c" stroke-width="1.05"/><path d="M0,5 V10" stroke="#888" stroke-width=".5"/><path d="M-2.6,3.9 L-2.6,1 Q-2.6,-0.5 0,-0.5 Q2.6,-0.5 2.6,1 L2.6,3.9Z" fill="#1c1c1c"/><rect x="-0.5" y="1.6" width="1" height="1.6" fill="#8a8a8a"/><ellipse cx="0" cy="15.3" rx="2.5" ry="1.75" fill="#1c1c1c"/></g>
<g transform="translate(398,285.4) scale(1,1)"><rect x="-4.5" y="3.6" width="6" height="4" fill="#fff" stroke="#1c1c1c" stroke-width="1.15"/><rect x="-5" y="6.2" width="7" height="1.8" fill="#1c1c1c"/><path d="M-6.4,2.2 L-6,-4.5 L-5,-6.1 L1,-6.6 L6.4,-2.6 L6.8,0.8 L4.6,3.5 L0.5,3.9 L-5,4.1Z" fill="#fff" stroke="#1c1c1c" stroke-width="1.55" stroke-linejoin="round"/><path d="M1,-6.6 L6.4,-2.6" stroke="#1c1c1c" stroke-width="2.1" stroke-linecap="round"/><path d="M-0.9,-6.4 L-0.4,3.9 M-6,-4.5 L-1,-3.6" fill="none" stroke="#1c1c1c" stroke-width="1.1"/><ellipse cx="4.3" cy="0.3" rx="1.8" ry="2.8" transform="rotate(14 4.3 0.3)" fill="#1c1c1c"/><ellipse cx="4.5" cy="0.4" rx=".7" ry="1.3" transform="rotate(14 4.5 0.4)" fill="#9a9a9a"/><path d="M1.4,-2.6 Q0.8,0.6 1.8,3.4" fill="none" stroke="#1c1c1c" stroke-width="1"/><circle fill="#1c1c1c" cx="-3.5" cy="-1.8" r=".7"/></g>
<g transform="translate(394.6,302.6) scale(1,1)"><rect x="-4.5" y="3.6" width="6" height="4" fill="#fff" stroke="#1c1c1c" stroke-width="1.15"/><rect x="-5" y="6.2" width="7" height="1.8" fill="#1c1c1c"/><path d="M-6.4,2.2 L-6,-4.5 L-5,-6.1 L1,-6.6 L6.4,-2.6 L6.8,0.8 L4.6,3.5 L0.5,3.9 L-5,4.1Z" fill="#fff" stroke="#1c1c1c" stroke-width="1.55" stroke-linejoin="round"/><path d="M1,-6.6 L6.4,-2.6" stroke="#1c1c1c" stroke-width="2.1" stroke-linecap="round"/><path d="M-0.9,-6.4 L-0.4,3.9 M-6,-4.5 L-1,-3.6" fill="none" stroke="#1c1c1c" stroke-width="1.1"/><ellipse cx="4.3" cy="0.3" rx="1.8" ry="2.8" transform="rotate(14 4.3 0.3)" fill="#1c1c1c"/><ellipse cx="4.5" cy="0.4" rx=".7" ry="1.3" transform="rotate(14 4.5 0.4)" fill="#9a9a9a"/><path d="M1.4,-2.6 Q0.8,0.6 1.8,3.4" fill="none" stroke="#1c1c1c" stroke-width="1"/><circle fill="#1c1c1c" cx="-3.5" cy="-1.8" r=".7"/></g>
<g transform="translate(388.3,318)"><path d="M-4.2,-1.4 Q-4.2,-4.6 0,-4.9 Q4.2,-4.6 4.2,-1.4 L3.7,2.4 L2.9,5 L-2.9,5 L-3.7,2.4Z" fill="#fff" stroke="#1c1c1c" stroke-width="1.5" stroke-linejoin="round"/><path fill="none" stroke="#1c1c1c" stroke-width="1.2" d="M-3.7,2.4 Q0,4 3.7,2.4 M-4.2,-1.4 Q0,1.6 4.2,-1.4"/><ellipse cx="0" cy="-2.3" rx="2.7" ry="1.6" fill="#1c1c1c"/><ellipse cx="0" cy="-2.3" rx="1.2" ry=".6" fill="#aaa"/><path fill="none" stroke="#1c1c1c" stroke-width="1" d="M-1.6,0.2 V3 M1.6,0.2 V3"/></g>
<g transform="translate(380,326.2)"><path d="M-4.2,-1.4 Q-4.2,-4.6 0,-4.9 Q4.2,-4.6 4.2,-1.4 L3.7,2.4 L2.9,5 L-2.9,5 L-3.7,2.4Z" fill="#fff" stroke="#1c1c1c" stroke-width="1.5" stroke-linejoin="round"/><path fill="none" stroke="#1c1c1c" stroke-width="1.2" d="M-3.7,2.4 Q0,4 3.7,2.4 M-4.2,-1.4 Q0,1.6 4.2,-1.4"/><ellipse cx="0" cy="-2.3" rx="2.7" ry="1.6" fill="#1c1c1c"/><ellipse cx="0" cy="-2.3" rx="1.2" ry=".6" fill="#aaa"/><path fill="none" stroke="#1c1c1c" stroke-width="1" d="M-1.6,0.2 V3 M1.6,0.2 V3"/></g>
<g transform="translate(402.8,323.4) scale(1,1)"><rect x="-4.5" y="3.6" width="6" height="4" fill="#fff" stroke="#1c1c1c" stroke-width="1.15"/><rect x="-5" y="6.2" width="7" height="1.8" fill="#1c1c1c"/><path d="M-6.4,2.2 L-6,-4.5 L-5,-6.1 L1,-6.6 L6.4,-2.6 L6.8,0.8 L4.6,3.5 L0.5,3.9 L-5,4.1Z" fill="#fff" stroke="#1c1c1c" stroke-width="1.55" stroke-linejoin="round"/><path d="M1,-6.6 L6.4,-2.6" stroke="#1c1c1c" stroke-width="2.1" stroke-linecap="round"/><path d="M-0.9,-6.4 L-0.4,3.9 M-6,-4.5 L-1,-3.6" fill="none" stroke="#1c1c1c" stroke-width="1.1"/><ellipse cx="4.3" cy="0.3" rx="1.8" ry="2.8" transform="rotate(14 4.3 0.3)" fill="#1c1c1c"/><ellipse cx="4.5" cy="0.4" rx=".7" ry="1.3" transform="rotate(14 4.5 0.4)" fill="#9a9a9a"/><path d="M1.4,-2.6 Q0.8,0.6 1.8,3.4" fill="none" stroke="#1c1c1c" stroke-width="1"/><circle fill="#1c1c1c" cx="-3.5" cy="-1.8" r=".7"/></g>
<g transform="translate(376.4,339.6) scale(1,1)"><rect x="-4.5" y="3.6" width="6" height="4" fill="#fff" stroke="#1c1c1c" stroke-width="1.15"/><rect x="-5" y="6.2" width="7" height="1.8" fill="#1c1c1c"/><path d="M-6.4,2.2 L-6,-4.5 L-5,-6.1 L1,-6.6 L6.4,-2.6 L6.8,0.8 L4.6,3.5 L0.5,3.9 L-5,4.1Z" fill="#fff" stroke="#1c1c1c" stroke-width="1.55" stroke-linejoin="round"/><path d="M1,-6.6 L6.4,-2.6" stroke="#1c1c1c" stroke-width="2.1" stroke-linecap="round"/><path d="M-0.9,-6.4 L-0.4,3.9 M-6,-4.5 L-1,-3.6" fill="none" stroke="#1c1c1c" stroke-width="1.1"/><ellipse cx="4.3" cy="0.3" rx="1.8" ry="2.8" transform="rotate(14 4.3 0.3)" fill="#1c1c1c"/><ellipse cx="4.5" cy="0.4" rx=".7" ry="1.3" transform="rotate(14 4.5 0.4)" fill="#9a9a9a"/><path d="M1.4,-2.6 Q0.8,0.6 1.8,3.4" fill="none" stroke="#1c1c1c" stroke-width="1"/><circle fill="#1c1c1c" cx="-3.5" cy="-1.8" r=".7"/></g>
<g class="ns" transform="translate(355,380) scale(0.15)">
<g transform="translate(50,172) rotate(30)"><rect x="-4" y="-12" width="50" height="24" rx="5" fill="#1c1c1c" stroke="#1c1c1c" stroke-width="1"/><path d="M8,-11 V11 M18,-11 V11 M28,-11 V11" stroke="#999" stroke-width=".6"/></g>
<path class="p" style="stroke-width:1.45;stroke:#161616"  d="M64,290 L98,270 L112,280 L112,342 L96,330 L64,310Z"/>
<path class="pn" style="stroke-width:1.45;stroke:#161616"  d="M64,290 L80,300 L80,320 M80,300 L110,284"/>
<path class="p" style="stroke-width:1.45;stroke:#161616"  d="M212,372 L268,345 L285,355 L285,372 L232,402 L212,400Z"/>
<path class="pn" style="stroke-width:1.45;stroke:#161616"  d="M232,385 L285,357 M232,385 L232,402 M212,372 L232,385"/>
<path class="p" style="stroke-width:1.45;stroke:#161616"  d="M392,172 C400,150 432,150 442,178 L442,250 L392,262Z"/>
<g transform="translate(488,297) rotate(30)"><path class="p" style="stroke-width:1.45;stroke:#161616" d="M0,-34 L-74,-34 L-74,34 L0,34Z"/><ellipse class="p" style="stroke-width:1.45;stroke:#161616" cx="0" cy="0" rx="29.9" ry="34"/><ellipse class="pn" style="stroke-width:1.45;stroke:#161616" cx="1" cy="0" rx="22.1" ry="25.2"/></g>
<circle class="k" cx="447" cy="262" r="3.5"/>
<path class="p" style="stroke-width:1.45;stroke:#161616"  d="M330,206 C340,186 376,186 388,212 L388,290 L330,300Z"/>
<g transform="translate(408,319) rotate(30)"><path class="p" style="stroke-width:1.45;stroke:#161616" d="M0,-31 L-52,-31 L-52,31 L0,31Z"/><ellipse class="p" style="stroke-width:1.45;stroke:#161616" cx="0" cy="0" rx="27.3" ry="31"/><ellipse class="pn" style="stroke-width:1.45;stroke:#161616" cx="1" cy="0" rx="20.2" ry="22.9"/></g>
<path class="p" style="stroke-width:1.45;stroke:#161616"  d="M250,256 C262,228 305,228 320,250 L320,318 L252,330Z"/>
<g transform="translate(350,349) rotate(30)"><path class="p" style="stroke-width:1.45;stroke:#161616" d="M0,-32 L-56,-32 L-56,32 L0,32Z"/><ellipse class="p" style="stroke-width:1.45;stroke:#161616" cx="0" cy="0" rx="28.2" ry="32"/><ellipse class="pn" style="stroke-width:1.45;stroke:#161616" cx="1" cy="0" rx="20.8" ry="23.7"/></g>
<path class="p" style="stroke-width:1.45;stroke:#161616"  d="M100,190 L130,168 L150,140 L205,92 L217,75 L300,68 L335,80 L395,100 L410,135 L412,160 L392,172 L330,206 L250,256 L215,270 L150,258 L100,236Z"/>
<path class="pn" style="stroke-width:1.45;stroke:#161616"  d="M130,168 L168,188 L250,142 L217,122 M205,92 L217,122 M250,142 L335,80 M168,188 L168,205"/>
<path class="pn" style="stroke-width:1.45;stroke:#161616"  d="M300,68 L300,100 L258,120 M335,80 L335,108 L300,128 L300,100"/>
<path class="pn" style="stroke-width:1.45;stroke:#161616" style="stroke-width:1.6" d="M268,100 L268,70 M282,100 L282,66"/>
<path class="p" style="stroke-width:1.45;stroke:#161616"  d="M176,192 L392,98 L404,116 L190,212Z"/>
<path class="pn" style="stroke-width:1.45;stroke:#161616"  d="M184,202 L398,107"/>
<ellipse class="p" style="stroke-width:1.45;stroke:#161616"  cx="135" cy="196" rx="18" ry="12" transform="rotate(-8 135 196)"/>
<ellipse class="pn" style="stroke-width:1.45;stroke:#161616"  cx="135" cy="197" rx="10.799999999999999" ry="6.6000000000000005" transform="rotate(-8 135 197)"/>
<ellipse class="p" style="stroke-width:1.45;stroke:#161616"  cx="196" cy="226" rx="22" ry="15" transform="rotate(-8 196 226)"/>
<ellipse class="pn" style="stroke-width:1.45;stroke:#161616"  cx="196" cy="227" rx="13.2" ry="8.25" transform="rotate(-8 196 227)"/>
<ellipse class="p" style="stroke-width:1.45;stroke:#161616"  cx="266" cy="206" rx="20" ry="14" transform="rotate(-8 266 206)"/>
<ellipse class="pn" style="stroke-width:1.45;stroke:#161616"  cx="266" cy="207" rx="12.0" ry="7.700000000000001" transform="rotate(-8 266 207)"/>
<ellipse class="p" style="stroke-width:1.45;stroke:#161616"  cx="165" cy="150" rx="17" ry="12" transform="rotate(-8 165 150)"/>
<ellipse class="pn" style="stroke-width:1.45;stroke:#161616"  cx="165" cy="151" rx="10.2" ry="6.6000000000000005" transform="rotate(-8 165 151)"/>
<ellipse class="p" style="stroke-width:1.45;stroke:#161616"  cx="232" cy="112" rx="18" ry="12" transform="rotate(-8 232 112)"/>
<ellipse class="pn" style="stroke-width:1.45;stroke:#161616"  cx="232" cy="113" rx="10.799999999999999" ry="6.6000000000000005" transform="rotate(-8 232 113)"/>
<ellipse class="p" style="stroke-width:1.45;stroke:#161616"  cx="278" cy="96" rx="15" ry="10" transform="rotate(-8 278 96)"/>
<ellipse class="pn" style="stroke-width:1.45;stroke:#161616"  cx="278" cy="97" rx="9.0" ry="5.5" transform="rotate(-8 278 97)"/>
<ellipse class="p" style="stroke-width:1.45;stroke:#161616"  cx="302" cy="172" rx="20" ry="13" transform="rotate(-8 302 172)"/>
<ellipse class="pn" style="stroke-width:1.45;stroke:#161616"  cx="302" cy="173" rx="12.0" ry="7.15" transform="rotate(-8 302 173)"/>
<ellipse class="p" style="stroke-width:1.45;stroke:#161616"  cx="366" cy="146" rx="22" ry="15" transform="rotate(-8 366 146)"/>
<ellipse class="pn" style="stroke-width:1.45;stroke:#161616"  cx="366" cy="147" rx="13.2" ry="8.25" transform="rotate(-8 366 147)"/>
<ellipse class="p" style="stroke-width:1.45;stroke:#161616"  cx="330" cy="128" rx="14" ry="9" transform="rotate(-8 330 128)"/>
<ellipse class="pn" style="stroke-width:1.45;stroke:#161616"  cx="330" cy="129" rx="8.4" ry="4.95" transform="rotate(-8 330 129)"/>
<ellipse fill="#161616" cx="160" cy="106" rx="11" ry="9"/><ellipse fill="#161616" cx="104" cy="134" rx="10" ry="8"/>
<path class="pn" style="stroke-width:1.45;stroke:#161616"  d="M150,140 L150,160 M100,190 L100,140 L104,134 M160,106 L160,150"/>
<path class="p" style="stroke-width:1.45;stroke:#161616"  d="M100,236 C92,250 98,264 110,270 L112,342 L185,392 C200,402 213,398 214,384 L216,302 C236,296 247,276 244,258 C226,276 190,274 160,260 C140,252 120,234 100,236Z"/>
<path class="pn" style="stroke-width:1.45;stroke:#161616"  d="M110,270 C140,290 180,300 216,302 M150,262 C150,250 165,240 180,246 M128,232 L128,250 L150,262"/>
<path class="pn" style="stroke-width:1.45;stroke:#161616"  d="M140,300 C150,330 150,350 185,392"/>
<g transform="translate(290,357) rotate(30)"><path class="p" d="M0,-16 L-62,-16 L-62,16 L0,16Z" style="stroke-width:1.4;stroke:#161616"/><ellipse cx="0" cy="0" rx="11" ry="16" fill="#161616" stroke="#161616"/><path class="pn" d="M-20,-14 V14 M-36,-14 V14" style="stroke-width:.8"/></g>
<circle cx="443" cy="138" r="28" fill="#fff" stroke="#161616" style="stroke-width:2.5"/>
<path class="pn" d="M426,150 C422,126 448,114 466,130" style="stroke-width:1"/>
<path class="pn" d="M415,165 L415,200 M440,176 L440,236" style="stroke-width:1"/>
</g>
<path class="t" style="stroke:#333;stroke-width:.8" d="M375,392 V406 M394.4,386 V393.5 M396.8,386 V393.5"/>
<path class="da" style="stroke-dasharray:5 2" d="M379.6,390 V401 M388,384 V394.5 M402.6,386 V395.5"/>
<!-- green highlight -->
<path class="g" d="M296,306.6 L311,291.6 L320,298 L476,147 L491.6,162.4 L335.6,312.6 L367,347 L351,364 Z"/>
<!-- callouts -->
<line class="ld" x1="253.43" y1="109.36" x2="232.00" y2="170.00"/>
<circle class="co" cx="256.6" cy="100.4" r="9.5"/>
<path class="dg" transform="translate(250.23,95.92) scale(1.08,1.12)" d="M0.9,1.5 L2.2,0 L2.2,8"/>
<path class="dg" transform="translate(257.15,95.92) scale(1.08,1.12)" d="M3.1,8 L3.1,0 L0,5.7 L4.2,5.7"/>
<line class="ld" x1="295.50" y1="108.00" x2="263.40" y2="150.80"/>
<circle class="co" cx="301.2" cy="100.4" r="9.5"/>
<path class="dg" transform="translate(294.83,95.92) scale(1.08,1.12)" d="M0.9,1.5 L2.2,0 L2.2,8"/>
<path class="dg" transform="translate(301.75,95.92) scale(1.08,1.12)" d="M0.3,1.4 C0.6,0.4 1.2,0 2,0 C3.2,0 3.8,0.8 3.8,2 C3.8,3.2 3,3.8 1.6,3.8 C3.2,3.8 4,4.6 4,5.9 C4,7.2 3.2,8 2,8 C1,8 0.3,7.4 0,6.4"/>
<line class="ld" x1="330.44" y1="106.76" x2="302.20" y2="132.20"/>
<circle class="co" cx="337.5" cy="100.4" r="9.5"/>
<path class="dg" transform="translate(331.13,95.92) scale(1.08,1.12)" d="M0.9,1.5 L2.2,0 L2.2,8"/>
<path class="dg" transform="translate(338.05,95.92) scale(1.08,1.12)" d="M0.2,2 C0.2,0.7 1,0 2,0 C3.2,0 3.9,0.8 3.9,2 C3.9,3.4 2.8,4.4 0,8 L4,8"/>
<line class="ld" x1="363.22" y1="107.78" x2="299.40" y2="186.50"/>
<circle class="co" cx="369.2" cy="100.4" r="9.5"/>
<path class="dg" transform="translate(367.04,95.92) scale(1.08,1.12)" d="M0.3,1.4 C0.6,0.4 1.2,0 2,0 C3.2,0 3.8,0.8 3.8,2 C3.8,3.2 3,3.8 1.6,3.8 C3.2,3.8 4,4.6 4,5.9 C4,7.2 3.2,8 2,8 C1,8 0.3,7.4 0,6.4"/>
<line class="ld" x1="412.01" y1="108.01" x2="340.60" y2="203.40"/>
<circle class="co" cx="417.7" cy="100.4" r="9.5"/>
<path class="dg" transform="translate(415.54,95.92) scale(1.08,1.12)" d="M0,0 L4,0 C2.6,2.4 1.7,5 1.5,8"/>
<line class="ld" x1="467.16" y1="106.99" x2="274.50" y2="292.60"/>
<circle class="co" cx="474" cy="100.4" r="9.5"/>
<path class="dg" transform="translate(471.84,95.92) scale(1.08,1.12)" d="M2,3.7 C0.9,3.7 0.3,2.9 0.3,1.9 C0.3,0.8 1,0 2,0 C3,0 3.7,0.8 3.7,1.9 C3.7,2.9 3.1,3.7 2,3.7 C0.8,3.7 0,4.6 0,5.8 C0,7.1 0.8,8 2,8 C3.2,8 4,7.1 4,5.8 C4,4.6 3.2,3.7 2,3.7Z"/>
<line class="ld" x1="468.15" y1="170.58" x2="326.00" y2="307.00"/>
<circle class="co" cx="475" cy="164" r="9.5"/>
<path class="dg" transform="translate(468.63,159.52) scale(1.08,1.12)" d="M0.9,1.5 L2.2,0 L2.2,8"/>
<path class="dg" transform="translate(475.55,159.52) scale(1.08,1.12)" d="M3.7,0 L0.6,0 L0.3,3.6 C0.8,3.1 1.4,2.9 2.1,2.9 C3.3,2.9 4,3.9 4,5.4 C4,7 3.2,8 2,8 C1,8 0.3,7.4 0,6.5"/>
<line class="ld" x1="470.24" y1="200.06" x2="399.50" y2="278.50"/>
<circle class="co" cx="476.6" cy="193" r="9.5"/>
<path class="dg" transform="translate(470.93,188.52) scale(1.08,1.12)" d="M0.2,2 C0.2,0.7 1,0 2,0 C3.2,0 3.9,0.8 3.9,2 C3.9,3.4 2.8,4.4 0,8 L4,8"/>
<path class="dg" transform="translate(477.15,188.52) scale(1.08,1.12)" d="M0.9,1.5 L2.2,0 L2.2,8"/>
<line class="ld" x1="468.97" y1="250.48" x2="397.00" y2="296.00"/>
<circle class="co" cx="477" cy="245.4" r="9.5"/>
<path class="dg" transform="translate(471.33,240.92) scale(1.08,1.12)" d="M0.2,2 C0.2,0.7 1,0 2,0 C3.2,0 3.9,0.8 3.9,2 C3.9,3.4 2.8,4.4 0,8 L4,8"/>
<path class="dg" transform="translate(477.55,240.92) scale(1.08,1.12)" d="M0.2,2 C0.2,0.7 1,0 2,0 C3.2,0 3.9,0.8 3.9,2 C3.9,3.4 2.8,4.4 0,8 L4,8"/>
<line class="ld" x1="468.53" y1="283.05" x2="396.50" y2="313.00"/>
<circle class="co" cx="477.3" cy="279.4" r="9.5"/>
<path class="dg" transform="translate(471.63,274.92) scale(1.08,1.12)" d="M0.2,2 C0.2,0.7 1,0 2,0 C3.2,0 3.9,0.8 3.9,2 C3.9,3.4 2.8,4.4 0,8 L4,8"/>
<path class="dg" transform="translate(477.85,274.92) scale(1.08,1.12)" d="M0.3,1.4 C0.6,0.4 1.2,0 2,0 C3.2,0 3.8,0.8 3.8,2 C3.8,3.2 3,3.8 1.6,3.8 C3.2,3.8 4,4.6 4,5.9 C4,7.2 3.2,8 2,8 C1,8 0.3,7.4 0,6.4"/>
<line class="ld" x1="467.76" y1="312.72" x2="379.50" y2="344.50"/>
<circle class="co" cx="476.7" cy="309.5" r="9.5"/>
<path class="dg" transform="translate(471.03,305.02) scale(1.08,1.12)" d="M0.2,2 C0.2,0.7 1,0 2,0 C3.2,0 3.9,0.8 3.9,2 C3.9,3.4 2.8,4.4 0,8 L4,8"/>
<path class="dg" transform="translate(477.25,305.02) scale(1.08,1.12)" d="M2,0 C0.5,0 0,1.5 0,4 C0,6.5 0.5,8 2,8 C3.5,8 4,6.5 4,4 C4,1.5 3.5,0 2,0Z"/>
<line class="ld" x1="467.82" y1="341.57" x2="423.00" y2="358.60"/>
<circle class="co" cx="476.7" cy="338.2" r="9.5"/>
<path class="dg" transform="translate(470.33,333.72) scale(1.08,1.12)" d="M0.9,1.5 L2.2,0 L2.2,8"/>
<path class="dg" transform="translate(477.25,333.72) scale(1.08,1.12)" d="M3.7,1.2 C3.4,0.4 2.9,0 2.1,0 C0.7,0 0,1.6 0,4.4 C0,6.8 0.7,8 2,8 C3.2,8 4,7 4,5.5 C4,4 3.2,3.1 2,3.1 C1,3.1 0.2,3.9 0,5"/>
<line class="ld" x1="470.42" y1="371.46" x2="424.60" y2="416.50"/>
<circle class="co" cx="477.2" cy="364.8" r="9.5"/>
<path class="dg" transform="translate(470.83,360.32) scale(1.08,1.12)" d="M0.9,1.5 L2.2,0 L2.2,8"/>
<path class="dg" transform="translate(477.75,360.32) scale(1.08,1.12)" d="M0.9,1.5 L2.2,0 L2.2,8"/>
<line class="ld" x1="472.35" y1="401.69" x2="429.00" y2="479.00"/>
<circle class="co" cx="477" cy="393.4" r="9.5"/>
<path class="dg" transform="translate(471.33,388.92) scale(1.08,1.12)" d="M0.2,2 C0.2,0.7 1,0 2,0 C3.2,0 3.9,0.8 3.9,2 C3.9,3.4 2.8,4.4 0,8 L4,8"/>
<path class="dg" transform="translate(477.55,388.92) scale(1.08,1.12)" d="M3.7,0 L0.6,0 L0.3,3.6 C0.8,3.1 1.4,2.9 2.1,2.9 C3.3,2.9 4,3.9 4,5.4 C4,7 3.2,8 2,8 C1,8 0.3,7.4 0,6.5"/>
<line class="ld" x1="471.51" y1="431.21" x2="429.00" y2="488.00"/>
<circle class="co" cx="477.2" cy="423.6" r="9.5"/>
<path class="dg" transform="translate(471.53,419.12) scale(1.08,1.12)" d="M0.2,2 C0.2,0.7 1,0 2,0 C3.2,0 3.9,0.8 3.9,2 C3.9,3.4 2.8,4.4 0,8 L4,8"/>
<path class="dg" transform="translate(477.75,419.12) scale(1.08,1.12)" d="M3.1,8 L3.1,0 L0,5.7 L4.2,5.7"/>
<line class="ld" x1="475.88" y1="472.23" x2="416.30" y2="547.00"/>
<circle class="co" cx="481.8" cy="464.8" r="9.5"/>
<path class="dg" transform="translate(479.64,460.32) scale(1.08,1.12)" d="M0.9,1.5 L2.2,0 L2.2,8"/>
<line class="ld" x1="136.71" y1="150.75" x2="256.00" y2="246.50"/>
<circle class="co" cx="129.3" cy="144.8" r="9.5"/>
<path class="dg" transform="translate(127.14,140.32) scale(1.08,1.12)" d="M3.1,8 L3.1,0 L0,5.7 L4.2,5.7"/>
<line class="ld" x1="136.68" y1="177.98" x2="233.40" y2="256.40"/>
<circle class="co" cx="129.3" cy="172" r="9.5"/>
<path class="dg" transform="translate(127.14,167.52) scale(1.08,1.12)" d="M3.7,0 L0.6,0 L0.3,3.6 C0.8,3.1 1.4,2.9 2.1,2.9 C3.3,2.9 4,3.9 4,5.4 C4,7 3.2,8 2,8 C1,8 0.3,7.4 0,6.5"/>
<line class="ld" x1="138.07" y1="207.51" x2="192.00" y2="241.00"/>
<circle class="co" cx="130" cy="202.5" r="9.5"/>
<path class="dg" transform="translate(123.63,198.02) scale(1.08,1.12)" d="M0.9,1.5 L2.2,0 L2.2,8"/>
<path class="dg" transform="translate(130.55,198.02) scale(1.08,1.12)" d="M2,3.7 C0.9,3.7 0.3,2.9 0.3,1.9 C0.3,0.8 1,0 2,0 C3,0 3.7,0.8 3.7,1.9 C3.7,2.9 3.1,3.7 2,3.7 C0.8,3.7 0,4.6 0,5.8 C0,7.1 0.8,8 2,8 C3.2,8 4,7.1 4,5.8 C4,4.6 3.2,3.7 2,3.7Z"/>
<line class="ld" x1="139.12" y1="236.15" x2="191.00" y2="251.20"/>
<circle class="co" cx="130" cy="233.5" r="9.5"/>
<path class="dg" transform="translate(123.63,229.02) scale(1.08,1.12)" d="M0.9,1.5 L2.2,0 L2.2,8"/>
<path class="dg" transform="translate(130.55,229.02) scale(1.08,1.12)" d="M0.3,6.8 C0.6,7.6 1.1,8 1.9,8 C3.3,8 4,6.4 4,3.6 C4,1.2 3.3,0 2,0 C0.8,0 0,1 0,2.5 C0,4 0.8,4.9 2,4.9 C3,4.9 3.8,4.1 4,3"/>
<line class="ld" x1="138.75" y1="263.00" x2="214.00" y2="271.00"/>
<circle class="co" cx="129.3" cy="262" r="9.5"/>
<path class="dg" transform="translate(122.93,257.52) scale(1.08,1.12)" d="M0.9,1.5 L2.2,0 L2.2,8"/>
<path class="dg" transform="translate(129.85,257.52) scale(1.08,1.12)" d="M2,0 C0.5,0 0,1.5 0,4 C0,6.5 0.5,8 2,8 C3.5,8 4,6.5 4,4 C4,1.5 3.5,0 2,0Z"/>
<line class="ld" x1="138.07" y1="291.66" x2="170.00" y2="305.00"/>
<circle class="co" cx="129.3" cy="288" r="9.5"/>
<path class="dg" transform="translate(127.14,283.52) scale(1.08,1.12)" d="M0.2,2 C0.2,0.7 1,0 2,0 C3.2,0 3.9,0.8 3.9,2 C3.9,3.4 2.8,4.4 0,8 L4,8"/>
<line class="ld" x1="138.62" y1="337.15" x2="220.00" y2="326.30"/>
<circle class="co" cx="129.2" cy="338.4" r="9.5"/>
<path class="dg" transform="translate(127.04,333.92) scale(1.08,1.12)" d="M3.7,1.2 C3.4,0.4 2.9,0 2.1,0 C0.7,0 0,1.6 0,4.4 C0,6.8 0.7,8 2,8 C3.2,8 4,7 4,5.5 C4,4 3.2,3.1 2,3.1 C1,3.1 0.2,3.9 0,5"/>
<line class="ld" x1="137.57" y1="402.91" x2="252.50" y2="341.20"/>
<circle class="co" cx="129.2" cy="407.4" r="9.5"/>
<path class="dg" transform="translate(122.83,402.92) scale(1.08,1.12)" d="M0.9,1.5 L2.2,0 L2.2,8"/>
<path class="dg" transform="translate(129.75,402.92) scale(1.08,1.12)" d="M0,0 L4,0 C2.6,2.4 1.7,5 1.5,8"/>
<line class="ld" x1="137.62" y1="431.10" x2="280.00" y2="356.60"/>
<circle class="co" cx="129.2" cy="435.5" r="9.5"/>
<path class="dg" transform="translate(123.53,431.02) scale(1.08,1.12)" d="M0.2,2 C0.2,0.7 1,0 2,0 C3.2,0 3.9,0.8 3.9,2 C3.9,3.4 2.8,4.4 0,8 L4,8"/>
<path class="dg" transform="translate(129.75,431.02) scale(1.08,1.12)" d="M3.7,1.2 C3.4,0.4 2.9,0 2.1,0 C0.7,0 0,1.6 0,4.4 C0,6.8 0.7,8 2,8 C3.2,8 4,7 4,5.5 C4,4 3.2,3.1 2,3.1 C1,3.1 0.2,3.9 0,5"/>
<line class="ld" x1="138.30" y1="470.18" x2="349.50" y2="407.00"/>
<circle class="co" cx="129.2" cy="472.9" r="9.5"/>
<path class="dg" transform="translate(127.04,468.42) scale(1.08,1.12)" d="M0.3,6.8 C0.6,7.6 1.1,8 1.9,8 C3.3,8 4,6.4 4,3.6 C4,1.2 3.3,0 2,0 C0.8,0 0,1 0,2.5 C0,4 0.8,4.9 2,4.9 C3,4.9 3.8,4.1 4,3"/>
</svg>
</body></html>
